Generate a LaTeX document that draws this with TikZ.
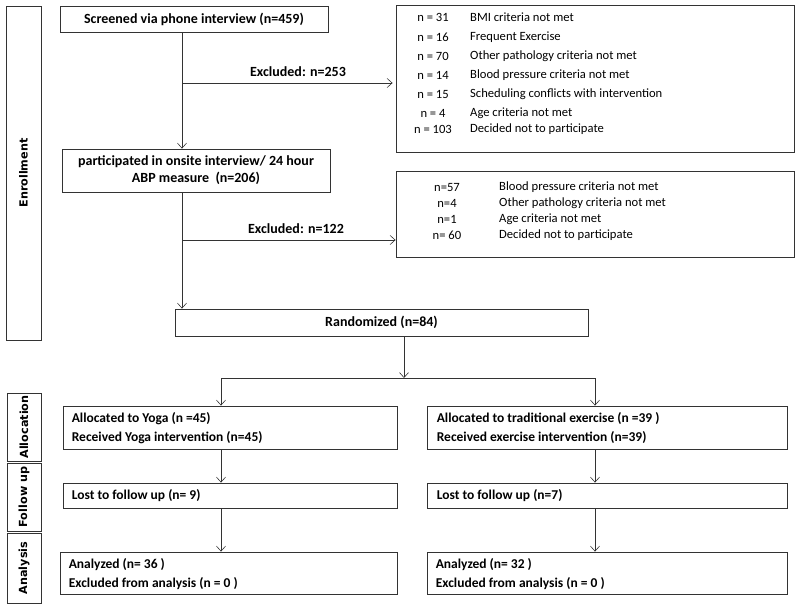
\documentclass[tikz,border=0pt]{standalone}
\usepackage{fontspec}
\setmainfont{Carlito}
\newfontfamily\stagefont{DejaVu Sans}
\usetikzlibrary{arrows.meta}

\begin{document}
\begin{tikzpicture}[x=1pt,y=-1pt,
  box/.style={draw=black!80,line width=0.8pt},
  arr/.style={draw=black!80,line width=0.6pt,-{Straight Barb[length=5pt,width=9pt]}},
  main/.style={font=\fontsize{14}{17}\selectfont\bfseries,align=center},
  sub/.style={font=\fontsize{13.5}{19}\selectfont\bfseries,align=left,anchor=west},
  lst/.style={font=\fontsize{12.6}{14}\selectfont},
  stage/.style={font=\stagefont\fontsize{11.2}{13}\selectfont\bfseries,rotate=90}]
\tikzstyle{every node}+=[inner sep=0pt]
\useasboundingbox (0,0) rectangle (800,608);
\node[box,stage,minimum width=334pt,minimum height=35pt] (enrol) at (23.5,173) {Enrollment};
\node[box,stage,minimum width=68pt,minimum height=34pt] (alloc) at (24,427) {Allocation};
\node[box,stage,minimum width=68pt,minimum height=34pt] (follow) at (24,497) {Follow up};
\node[box,stage,minimum width=70pt,minimum height=34pt] (anal) at (24,568) {Analysis};
\node[box,main,minimum width=268pt,minimum height=26pt] (screen) at (194,19) {Screened via phone interview (n=459)};
\node[box,main,minimum width=268pt,minimum height=43pt] (part) at (196,170.5) {participated in onsite interview/ 24 hour\\ABP measure\ \ (n=206)};
\node[box,main,minimum width=413pt,minimum height=27pt] (rand) at (381.5,322.5) {Randomized (n=84)};
\node[box,minimum width=398pt,minimum height=147pt] (excl1) at (595,78.5) {};
\node[box,minimum width=398pt,minimum height=86pt] (excl2) at (595,214) {};
\node[lst] (e1n1) at (433,17) {n = 31};
\node[lst,anchor=west] (e1t1) at (470,17) {BMI criteria not met};
\node[lst] (e1n2) at (433,37) {n = 16};
\node[lst,anchor=west] (e1t2) at (470,37) {Frequent Exercise};
\node[lst] (e1n3) at (433,56) {n = 70};
\node[lst,anchor=west] (e1t3) at (470,56) {Other pathology criteria not met};
\node[lst] (e1n4) at (433,75) {n = 14};
\node[lst,anchor=west] (e1t4) at (470,75) {Blood pressure criteria not met};
\node[lst] (e1n5) at (433,94) {n = 15};
\node[lst,anchor=west] (e1t5) at (470,94) {Scheduling conflicts with intervention};
\node[lst] (e1n6) at (433,113) {n = 4};
\node[lst,anchor=west] (e1t6) at (470,113) {Age criteria not met};
\node[lst] (e1n7) at (433,129) {n = 103};
\node[lst,anchor=west] (e1t7) at (470,129) {Decided not to participate};
\node[lst] (e2n1) at (447,187) {n=57};
\node[lst,anchor=west] (e2t1) at (499,187) {Blood pressure criteria not met};
\node[lst] (e2n2) at (447,203) {n=4};
\node[lst,anchor=west] (e2t2) at (499,203) {Other pathology criteria not met};
\node[lst] (e2n3) at (447,219) {n=1};
\node[lst,anchor=west] (e2t3) at (499,219) {Age criteria not met};
\node[lst] (e2n4) at (447,235) {n= 60};
\node[lst,anchor=west] (e2t4) at (499,235) {Decided not to participate};
\node[box,minimum width=334pt,minimum height=43pt] (yalloc) at (230,427.5) {};
\node[box,minimum width=360pt,minimum height=43pt] (ealloc) at (607,427.5) {};
\node[box,minimum width=334pt,minimum height=25pt] (ylost) at (230,495.5) {};
\node[box,minimum width=360pt,minimum height=25pt] (elost) at (607,495.5) {};
\node[box,minimum width=337pt,minimum height=42pt] (yanal) at (228.5,573) {};
\node[box,minimum width=360pt,minimum height=42pt] (eanal) at (607,573) {};
\node[sub] (yallocT) at ([xshift=9pt,yshift=-1pt]yalloc.west) {Allocated to Yoga (n =45)\\Received Yoga intervention (n=45)};
\node[sub] (eallocT) at ([xshift=10pt,yshift=-1pt]ealloc.west) {Allocated to traditional exercise (n =39 )\\Received exercise intervention (n=39)};
\node[sub] (ylostT) at ([xshift=9pt]ylost.west) {Lost to follow up (n= 9)};
\node[sub] (elostT) at ([xshift=10pt]elost.west) {Lost to follow up (n=7)};
\node[sub] (yanalT) at ([xshift=9pt,yshift=-1pt]yanal.west) {Analyzed (n= 36 )\\Excluded from analysis (n = 0 )};
\node[sub] (eanalT) at ([xshift=9pt,yshift=-1pt]eanal.west) {Analyzed (n= 32 )\\Excluded from analysis (n = 0 )};
\node[main] (lab1) at (298,72) {Excluded: n=253};
\node[main] (lab2) at (296,229) {Excluded: n=122};
\coordinate (b1) at (182,83);
\coordinate (b2) at (182,240);
\coordinate (b3) at (404,378);
\coordinate (ly) at (221,378);
\coordinate (ry) at (595,378);
\draw[arr] (b1 |- screen.south) -- (b1 |- part.north);
\draw[arr] (b1) -- ([xshift=-3pt]b1 -| excl1.west);
\draw[arr] (b2 |- part.south) -- (b2 |- rand.north);
\draw[arr] (b2) -- (b2 -| excl2.west);
\draw[arr] (b3 |- rand.south) -- (b3);
\draw[box,line width=0.6pt] (ly) -- (ry);
\draw[arr] (ly) -- (ly |- yalloc.north);
\draw[arr] (ry) -- (ry |- ealloc.north);
\draw[arr] (ly |- yalloc.south) -- (ly |- ylost.north);
\draw[arr] (ry |- ealloc.south) -- (ry |- elost.north);
\draw[arr] (ly |- ylost.south) -- (ly |- yanal.north);
\draw[arr] (ry |- elost.south) -- (ry |- eanal.north);
\end{tikzpicture}
\end{document}
